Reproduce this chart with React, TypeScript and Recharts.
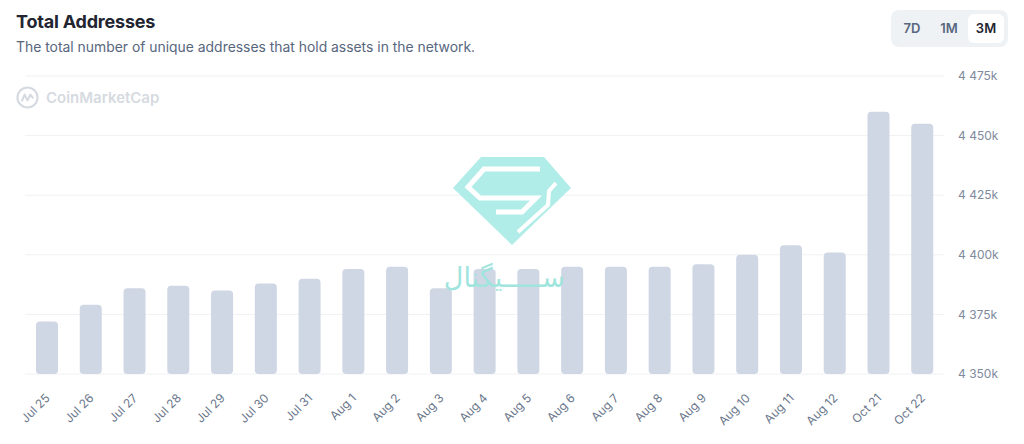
import React from "react";
import { BarChart, Bar, XAxis, YAxis, CartesianGrid } from "recharts";

const categories = ["Jul 25","Jul 26","Jul 27","Jul 28","Jul 29","Jul 30","Jul 31","Aug 1","Aug 2","Aug 3","Aug 4","Aug 5","Aug 6","Aug 7","Aug 8","Aug 9","Aug 10","Aug 11","Aug 12","Oct 21","Oct 22"];
const addresses = [4372000, 4379000, 4386000, 4387000, 4385000, 4388000, 4390000, 4394000, 4395000, 4386000, 4394000, 4394000, 4395000, 4395000, 4395000, 4396000, 4400000, 4404000, 4401000, 4460000, 4455000];
const yTicks = [4350000, 4375000, 4400000, 4425000, 4450000, 4475000];
const rangeButtons = ["7D", "1M", "3M"];

const data = categories.map((c, i) => ({ date: c, value: addresses[i] }));

const FONT = "Inter, 'Noto Sans', sans-serif";

const fmtY = (v: number) => {
  const s = String(Math.round(v / 1000));
  return s.slice(0, s.length - 3) + " " + s.slice(s.length - 3) + "k";
};

const XTick = (props: any) => {
  const { x, y, payload } = props;
  return (
    <g transform={`translate(${x + 1},${y + 14})`}>
      <text textAnchor="end" transform="rotate(-45)" fontSize={12} fill="#6b778c" fontFamily={FONT} dy={4}>
        {payload.value}
      </text>
    </g>
  );
};

export default function App() {
  return (
    <div style={{ position: "absolute", left: 0, top: 0, width: 1024, height: 444, background: "#fff", fontFamily: FONT, overflow: "hidden" }}>
      <div style={{ position: "absolute", left: 16, top: 11, fontSize: 18, fontWeight: 700, color: "#222531", letterSpacing: -0.2 }}>Total Addresses</div>
      <div style={{ position: "absolute", left: 16, top: 39, fontSize: 13.9, color: "#58667e" }}>The total number of unique addresses that hold assets in the network.</div>
      <div style={{ position: "absolute", left: 891, top: 10, width: 117, height: 37, background: "#eff2f5", borderRadius: 8 }}>
        {rangeButtons.map((b, i) => (
          <div key={b} style={{ position: "absolute", left: [3, 40, 77][i], top: 4, width: 36, height: 29, lineHeight: "29px", textAlign: "center", fontSize: 13, fontWeight: 600, color: i === 2 ? "#222531" : "#58667e", background: i === 2 ? "#fff" : "transparent", borderRadius: 6 }}>{b}</div>
        ))}
      </div>
      <BarChart width={1024} height={444} data={data} margin={{ top: 76, right: 0, bottom: 0, left: 25 }} style={{ position: "absolute", left: 0, top: 0 }}>
        <CartesianGrid vertical={false} stroke="#f0f1f3" />
        <XAxis dataKey="date" interval={0} axisLine={false} tickLine={false} height={70} tick={<XTick />} />
        <YAxis orientation="right" domain={[4350000, 4475000]} ticks={yTicks} allowDataOverflow width={80} axisLine={false} tickLine={false} tickSize={0} tickMargin={14} tickFormatter={fmtY} tick={{ fontSize: 12, fill: "#808a9d", fontFamily: FONT }} />
        <Bar dataKey="value" fill="#cfd6e4" barSize={22} radius={[4, 4, 4, 4]} isAnimationActive={false} />
      </BarChart>
      <div style={{ position: "absolute", left: 16, top: 86, display: "flex", alignItems: "center", color: "#d6dae1", fontSize: 15, fontWeight: 600, pointerEvents: "none" }}>
        <svg width="23" height="23" viewBox="0 0 24 24" style={{ marginRight: 7 }}>
          <circle cx="12" cy="12" r="10.5" fill="none" stroke="#d6dae1" strokeWidth="2.2" />
          <path d="M6 16 L9 9 L12 15 L15 9 L18 13" fill="none" stroke="#d6dae1" strokeWidth="2.2" strokeLinejoin="round" />
        </svg>
        CoinMarketCap
      </div>
      <svg width="1024" height="444" style={{ position: "absolute", left: 0, top: 0, pointerEvents: "none" }}>
        <polygon points="481,157 544,157 571,188 512,245 453,188" fill="#a9ebe5" opacity="0.9" />
        <polyline points="540,169 484,169 468,187 480,198 536,198 522,212 496,212" fill="none" stroke="#fff" strokeWidth="5" />
        <polyline points="556,183 549,191 548,205 518,232" fill="none" stroke="#fff" strokeWidth="4" />
        <text x="565" y="287" textAnchor="end" fontSize="27" fill="#9fe5de" fontFamily="'DejaVu Sans', sans-serif">ســـــیگنال</text>
      </svg>
    </div>
  );
}
